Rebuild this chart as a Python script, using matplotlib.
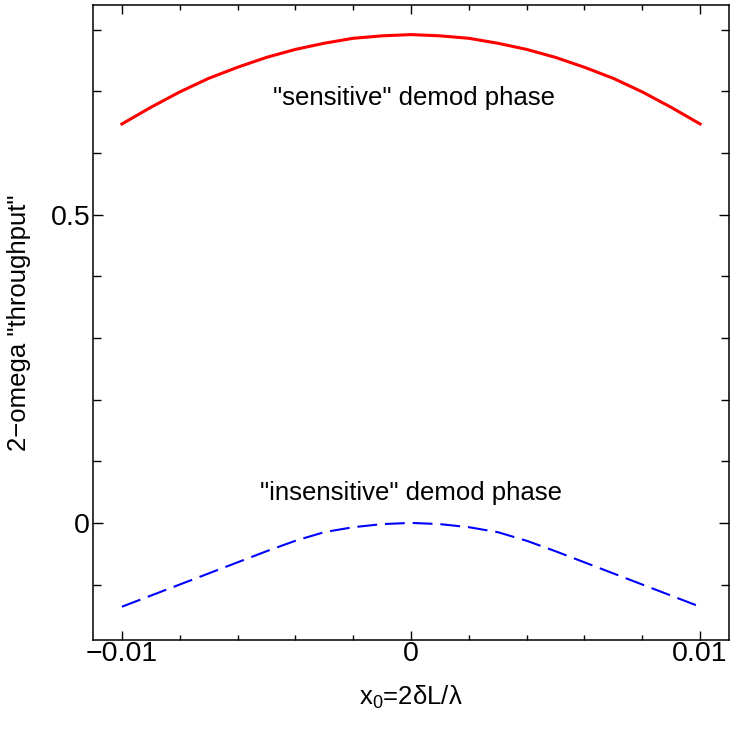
import numpy as np
import matplotlib.pyplot as plt
from matplotlib.ticker import MultipleLocator

# values
x0 = [-0.010, -0.009, -0.008, -0.007, -0.006, -0.005, -0.004, -0.003, -0.002, -0.001, 0.0,
      0.001, 0.002, 0.003, 0.004, 0.005, 0.006, 0.007, 0.008, 0.009, 0.010]
sensitive = [0.647, 0.674, 0.699, 0.721, 0.739, 0.755, 0.768, 0.778, 0.786, 0.790, 0.792,
             0.790, 0.786, 0.778, 0.768, 0.755, 0.739, 0.721, 0.699, 0.674, 0.647]
insensitive = [-0.136, -0.118, -0.100, -0.082, -0.064, -0.046, -0.029, -0.015, -0.007, -0.002, 0.0,
               -0.002, -0.007, -0.015, -0.029, -0.046, -0.064, -0.082, -0.100, -0.118, -0.136]
xticks = [-0.01, 0, 0.01]
xticklabels = ['\u22120.01', '0', '0.01']
yticks = [0, 0.5]
yticklabels = ['0', '0.5']

plt.rcParams['font.family'] = ['Liberation Sans', 'DejaVu Sans']
plt.rcParams['mathtext.default'] = 'regular'

fig = plt.figure(figsize=(7.31, 7.36), dpi=100)
ax = fig.add_axes([0.1272, 0.1304, 0.8701, 0.8628])

ax.plot(x0, sensitive, color=(1, 0, 0), lw=2.2)
ax.plot(x0, insensitive, color=(0, 0, 1), lw=1.5, dashes=(9.5, 3.8))

ax.set_xlim(-0.011, 0.011)
ax.set_ylim(-0.19, 0.84)

ax.set_xticks(xticks)
ax.set_xticklabels(xticklabels)
ax.set_yticks(yticks)
ax.set_yticklabels(yticklabels)
ax.xaxis.set_minor_locator(MultipleLocator(0.002))
ax.yaxis.set_minor_locator(MultipleLocator(0.1))

ax.tick_params(axis='both', which='both', direction='in', top=True, right=True, width=1.0)
ax.tick_params(axis='x', which='major', length=6.8, labelsize=20.5, pad=1)
ax.tick_params(axis='x', which='minor', length=3.3)
ax.tick_params(axis='y', which='major', length=7.5, labelsize=20.5, pad=2)
ax.tick_params(axis='y', which='minor', length=5.6)
for s in ax.spines.values():
    s.set_linewidth(1.1)

ax.text(0.0001, 0.689, '"sensitive" demod phase', fontsize=18.5, ha='center', va='center')
ax.text(0.0, 0.049, '"insensitive" demod phase', fontsize=18.5, ha='center', va='center')

ax.set_xlabel('x$_0$=2\u03b4L/\u03bb', fontsize=18.5, labelpad=12)
ax.set_ylabel('2\u2212omega "throughput"', fontsize=18.5, labelpad=14)

fig.savefig('out.png', dpi=100)
